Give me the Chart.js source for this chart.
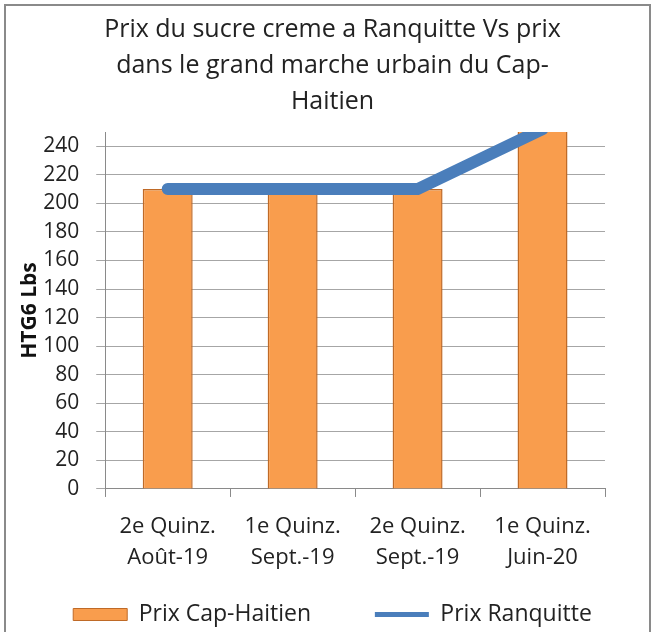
<!DOCTYPE html>
<html>
<head>
<meta charset="utf-8">
<script src="https://cdn.jsdelivr.net/npm/chart.js@4"></script>
<style>
  html, body { margin: 0; padding: 0; background: #fff; }
  #wrap { width: 655px; height: 632px; }
</style>
</head>
<body>
<div id="wrap"><canvas id="chart" width="655" height="632"></canvas></div>
<script>
// Chart values
const categories = [
  ['2e Quinz.', 'Août-19'],
  ['1e Quinz.', 'Sept.-19'],
  ['2e Quinz.', 'Sept.-19'],
  ['1e Quinz.', 'Juin-20']
];
const prixCapHaitien = [210, 210, 210, 260];
const prixRanquitte = [210, 210, 210, 252];
const yTickValues = [0, 20, 40, 60, 80, 100, 120, 140, 160, 180, 200, 220, 240];
const yMin = 0;
const yMax = 250;

const FONT = '"Open Sans", "Noto Sans", sans-serif';

// outer frame like the pasted Excel chart
const framePlugin = {
  id: 'frame',
  beforeDraw(chart) {
    const ctx = chart.ctx;
    ctx.save();
    ctx.fillStyle = '#fff';
    ctx.fillRect(0, 0, chart.width, chart.height);
    ctx.strokeStyle = '#8a8a8a';
    ctx.lineWidth = 2;
    ctx.strokeRect(5, 5, chart.width - 10, chart.height + 20);
    ctx.restore();
  }
};

const ctx = document.getElementById('chart').getContext('2d');
new Chart(ctx, {
  type: 'bar',
  data: {
    labels: categories,
    datasets: [
      {
        type: 'bar',
        label: 'Prix Cap-Haitien',
        data: prixCapHaitien,
        backgroundColor: '#f99d4d',
        borderColor: '#bf6a27',
        borderWidth: 1.5,
        categoryPercentage: 1,
        barPercentage: 0.4,
        pointStyle: 'rect',
        order: 1
      },
      {
        type: 'line',
        label: 'Prix Ranquitte',
        data: prixRanquitte,
        borderColor: '#4a7ebb',
        backgroundColor: '#4a7ebb',
        borderWidth: 12,
        borderCapStyle: 'round',
        borderJoinStyle: 'miter',
        pointRadius: 0,
        pointStyle: 'line',
        clip: 0,
        order: 0
      }
    ]
  },
  options: {
    responsive: false,
    animation: false,
    layout: { padding: { left: 10, right: 0, top: 0, bottom: -4 } },
    plugins: {
      title: {
        display: true,
        text: ['Prix du sucre creme a Ranquitte Vs prix', 'dans le grand marche urbain du Cap-', 'Haitien'],
        color: '#222',
        font: { family: FONT, size: 25, weight: 'normal', lineHeight: 1.44 },
        padding: { top: 12, bottom: 12 }
      },
      legend: {
        position: 'bottom',
        labels: {
          color: '#222',
          font: { family: FONT, size: 23 },
          usePointStyle: true,
          pointStyleWidth: 54,
          boxHeight: 12,
          padding: 16,
          sort: (a, b) => a.datasetIndex - b.datasetIndex,
          generateLabels(chart) {
            const items = Chart.defaults.plugins.legend.labels.generateLabels(chart);
            items.forEach(it => {
              if (it.datasetIndex === 1) {
                it.lineWidth = 5;
              } else {
                it.lineWidth = 1;
                // wider gap before the second entry, as in the original
                it.text = it.text + '\u00a0'.repeat(8);
              }
            });
            return items;
          }
        }
      },
      tooltip: { enabled: false }
    },
    scales: {
      x: {
        offset: true,
        grid: { display: true, drawOnChartArea: false, offset: true, tickLength: 8, color: '#8a8a8a' },
        border: { color: '#8a8a8a' },
        ticks: {
          color: '#222',
          font: { family: FONT, size: 22, lineHeight: 1.41 },
          padding: 14,
          maxRotation: 0
        }
      },
      y: {
        min: yMin,
        max: yMax,
        afterBuildTicks(axis) {
          axis.ticks = yTickValues.map(v => ({ value: v }));
        },
        ticks: {
          color: '#222',
          font: { family: FONT, size: 21 },
          padding: 17
        },
        grid: { color: '#a6a6a6', tickLength: 9 },
        border: { color: '#8a8a8a' },
        title: {
          display: true,
          text: 'HTG6 Lbs',
          color: '#111',
          font: { family: FONT, size: 21, weight: 'bold' },
          padding: { top: 7, bottom: -16 }
        }
      },
      // empty right-hand axis, only to keep the white space right of the plot
      yRight: {
        position: 'right',
        display: true,
        ticks: { display: false },
        grid: { display: false },
        border: { display: false },
        afterFit(axis) { axis.width = 50; }
      }
    }
  },
  plugins: [framePlugin]
});
</script>
</body>
</html>
